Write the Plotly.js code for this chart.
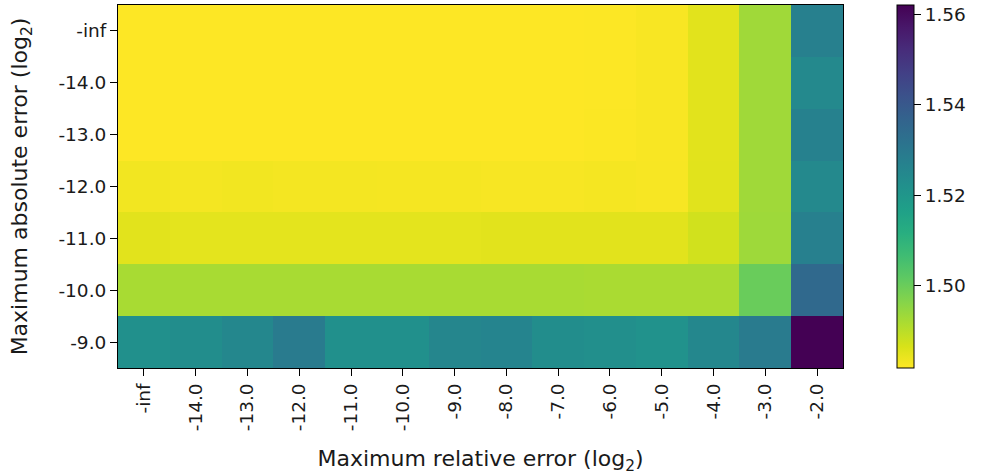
<!DOCTYPE html>
<html>
<head>
<meta charset="utf-8">
<script src="https://cdn.plot.ly/plotly-3.0.1.min.js"></script>
<style>html,body{margin:0;padding:0;background:#fff;}#chart{width:982px;height:476px;}</style>
</head>
<body>
<div id="chart"></div>
<script>
const relErrLabels = ["-inf","-14.0","-13.0","-12.0","-11.0","-10.0","-9.0","-8.0","-7.0","-6.0","-5.0","-4.0","-3.0","-2.0"];
const absErrLabels = ["-inf","-14.0","-13.0","-12.0","-11.0","-10.0","-9.0"];

// rows top to bottom: abs err -inf ... -9
const rowInf = [1.4816,1.4816,1.4816,1.4816,1.4816,1.4816,1.4816,1.4816,1.4816,1.4817,1.4822,1.4850,1.4930,1.5275];
const row14  = [1.4816,1.4816,1.4816,1.4816,1.4816,1.4816,1.4816,1.4816,1.4816,1.4817,1.4822,1.4850,1.4930,1.5243];
const row13  = [1.4816,1.4816,1.4816,1.4816,1.4816,1.4816,1.4816,1.4816,1.4816,1.4818,1.4822,1.4850,1.4930,1.5270];
const row12  = [1.4830,1.4828,1.4830,1.4828,1.4828,1.4826,1.4826,1.4824,1.4824,1.4826,1.4824,1.4852,1.4930,1.5245];
const row11  = [1.4850,1.4848,1.4848,1.4848,1.4848,1.4848,1.4848,1.4850,1.4850,1.4850,1.4850,1.4872,1.4932,1.5275];
const row10  = [1.4920,1.4920,1.4920,1.4920,1.4920,1.4920,1.4920,1.4920,1.4920,1.4918,1.4918,1.4918,1.5000,1.5348];
const row9   = [1.5220,1.5230,1.5250,1.5290,1.5220,1.5220,1.5255,1.5260,1.5230,1.5225,1.5215,1.5250,1.5290,1.5622];

const zValues = [rowInf,row14,row13,row12,row11,row10,row9];
const cbTicks = [1.50,1.52,1.54,1.56];

const tickFont = {family: "DejaVu Sans, sans-serif", size: 18.5, color: "#1a1a1a"};
const titleFont = {family: "DejaVu Sans, sans-serif", size: 22, color: "#1a1a1a"};

Plotly.newPlot("chart", [{
  type: "heatmap",
  x: relErrLabels,
  y: absErrLabels,
  z: zValues,
  colorscale: "Viridis",
  reversescale: true,
  xgap: 0, ygap: 0,
  colorbar: {
    x: 1.0744, xanchor: "left", xpad: 0,
    y: 0.5, yanchor: "middle", ypad: 0,
    len: 1, lenmode: "fraction",
    thickness: 17, thicknessmode: "pixels",
    outlinewidth: 1, outlinecolor: "#000",
    tickvals: cbTicks, ticktext: cbTicks.map(v => v.toFixed(2)),
    ticks: "outside", ticklen: 7, tickcolor: "#000", tickwidth: 1,
    tickfont: tickFont
  }
}], {
  width: 982, height: 476,
  margin: {l: 118, r: 139, t: 5, b: 108},
  paper_bgcolor: "#fff", plot_bgcolor: "#fff",
  font: tickFont,
  xaxis: {
    type: "category",
    tickangle: -90,
    ticks: "outside", ticklen: 7, tickcolor: "#000", tickwidth: 1,
    showline: true, linecolor: "#000", linewidth: 1, mirror: true,
    showgrid: false, zeroline: false,
    tickfont: tickFont,
    title: {text: "Maximum relative error (log<sub>2</sub>)", font: titleFont, standoff: 20}
  },
  yaxis: {
    type: "category",
    autorange: "reversed",
    ticks: "outside", ticklen: 7, tickcolor: "#000", tickwidth: 1,
    showline: true, linecolor: "#000", linewidth: 1, mirror: true,
    showgrid: false, zeroline: false,
    tickfont: tickFont,
    title: {text: "Maximum absolute error (log<sub>2</sub>)", font: titleFont, standoff: 24}
  }
}, {displayModeBar: false, staticPlot: true});
</script>
</body>
</html>
